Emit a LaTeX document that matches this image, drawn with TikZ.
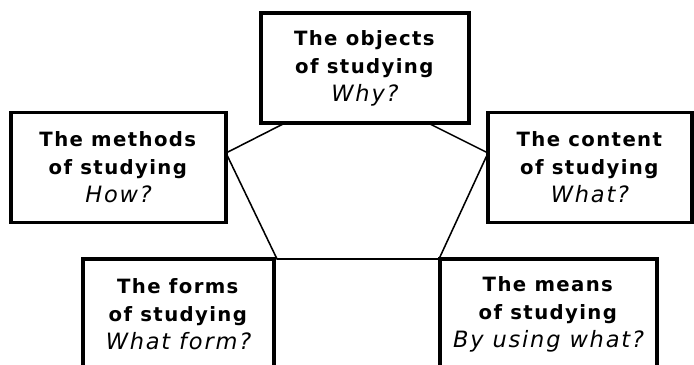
\documentclass[tikz,border=0pt]{standalone}
\usepackage{fontspec}
\setmainfont[LetterSpace=7, ItalicFeatures={LetterSpace=8}]{DejaVu Sans}
\usetikzlibrary{positioning}
\tikzset{
  stagebox/.style={draw, line width=2.6pt, fill=white, align=center,
    minimum height=2.75cm, inner sep=2pt, font=\fontsize{14}{20}\selectfont},
  rimline/.style={line width=1.1pt},
}
\newcommand{\stagetext}[2]{\textbf{#1}\\\textbf{of studying}\\%
  {\fontsize{16}{20}\selectfont\itshape #2}}

\begin{document}
\begin{tikzpicture}[x=0.025cm,y=-0.025cm]
    \useasboundingbox (0,0) rectangle (694,365);
    \clip (0,0) rectangle (694,365);

    % corners of the pentagon
    \coordinate (topleft) at (285,123);
    \coordinate (left) at (226,153);
    \coordinate (botleft) at (277,259);
    \coordinate (botright) at (439,259);
    \coordinate (right) at (488,153);
    \coordinate (topright) at (428,123);
    \draw[rimline] (topleft) -- (left) -- (botleft) -- (botright)
        -- (right) -- (topright) -- cycle;

    % the five boxes
    \node[stagebox, minimum width=5.2cm] (objects) at (365,68)
        {\stagetext{The objects}{Why?}};
    \node[stagebox, minimum width=5.375cm] (methods) at (118.5,167.5)
        {\stagetext{The methods}{How?}};
    \node[stagebox, minimum width=5.1cm] (content) at (590,167.5)
        {\stagetext{The content}{What?}};
    \node[stagebox, minimum width=4.775cm] (forms) at (178.5,314)
        {\stagetext{The forms}{What form?}};
    \node[stagebox, minimum width=5.425cm] (means) at (548.5,314)
        {\stagetext{The means}{By using what?}};
\end{tikzpicture}
\end{document}
